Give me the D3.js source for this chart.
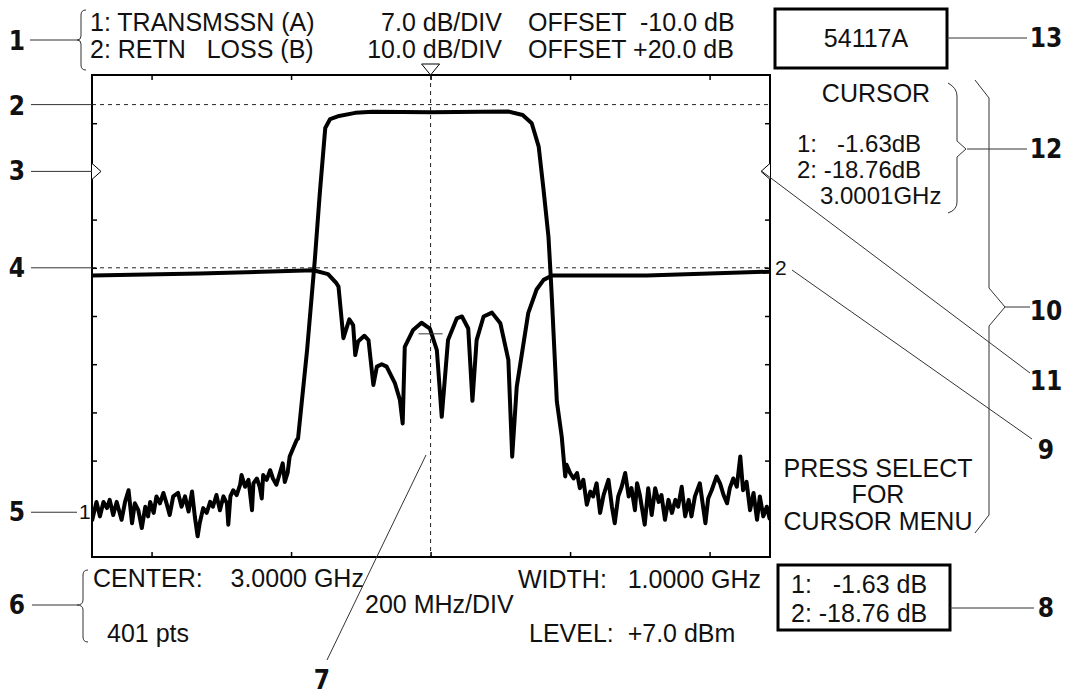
<!DOCTYPE html>
<html>
<head>
<meta charset="utf-8">
<script src="https://cdn.jsdelivr.net/npm/d3@7"></script>
<style>
  body { margin: 0; background: #fff; }
  svg text { white-space: pre; }
  .scr { font-family: "Liberation Sans", Arial, sans-serif; font-size: 25px; fill: #111; }
  .small { font-size: 21px; }
  .tight { font-size: 24px; }
  .num { font-family: "Liberation Sans Narrow", "DejaVu Sans Condensed", sans-serif; font-weight: bold; font-size: 26px; fill: #111; }
  .call { stroke: #333; stroke-width: 1; fill: none; }
  .dash { stroke: #222; stroke-width: 1; stroke-dasharray: 4,4; fill: none; }
  .tick line { stroke: #000; stroke-width: 1.5; }
</style>
</head>
<body>
<svg width="1067" height="696"></svg>
<script>
// ---- data ----
// frequency in GHz, level in dB
let freqTicks = [2.6, 2.8, 3.0, 3.2, 3.4];
let levelTicks = [-3, -10, -17, -24, -31, -38, -45, -52, -59];   // trace 1 divisions, 7 dB/DIV

// trace 1: transmission (A)
let transmission = [
  [2.515,-60.6],[2.521,-58.0],[2.526,-60.1],[2.531,-58.0],[2.536,-58.9],[2.540,-57.7],[2.545,-59.9],
  [2.550,-58.0],[2.557,-60.6],[2.562,-58.0],[2.567,-56.3],[2.572,-61.1],[2.576,-58.2],[2.581,-59.2],
  [2.586,-61.8],[2.591,-58.7],[2.595,-60.1],[2.598,-58.0],[2.603,-59.6],[2.607,-57.2],[2.612,-58.2],
  [2.617,-56.7],[2.622,-58.4],[2.626,-59.9],[2.631,-57.2],[2.638,-56.7],[2.643,-58.7],[2.648,-57.2],
  [2.653,-59.4],[2.658,-56.5],[2.662,-60.1],[2.666,-63.0],[2.669,-61.1],[2.674,-58.9],[2.679,-59.6],
  [2.684,-58.0],[2.688,-58.7],[2.693,-57.0],[2.698,-59.2],[2.703,-57.2],[2.708,-58.2],[2.710,-61.3],
  [2.713,-57.2],[2.717,-56.3],[2.722,-57.0],[2.727,-55.5],[2.729,-54.1],[2.734,-55.8],[2.739,-54.8],
  [2.744,-59.2],[2.746,-55.3],[2.751,-54.6],[2.755,-55.8],[2.758,-57.5],[2.760,-54.1],[2.765,-54.8],
  [2.770,-53.4],[2.774,-54.6],[2.779,-55.5],[2.784,-53.8],[2.788,-52.4],[2.791,-55.1],[2.795,-53.8],
  [2.798,-51.4],[2.803,-50.2],[2.808,-49.0],[2.810,-48.8],[2.823,-35.9],[2.834,-22.9],[2.841,-13.4],
  [2.849,-3.7],[2.856,-2.4],[2.867,-2.0],[2.892,-1.5],[2.917,-1.35],[3.000,-1.4],[3.111,-1.3],
  [3.132,-1.8],[3.145,-3.0],[3.155,-6.4],[3.162,-12.7],[3.169,-19.5],[3.172,-24.8],[3.174,-28.7],
  [3.181,-43.4],[3.188,-48.5],[3.193,-54.3],[3.195,-52.6],[3.200,-53.8],[3.205,-54.6],[3.210,-53.8],
  [3.214,-56.0],[3.219,-54.8],[3.224,-58.4],[3.229,-56.5],[3.233,-57.2],[3.238,-55.3],[3.243,-59.6],
  [3.248,-57.0],[3.255,-54.8],[3.260,-58.7],[3.264,-61.1],[3.269,-57.2],[3.274,-55.8],[3.279,-53.8],
  [3.284,-57.2],[3.288,-56.0],[3.293,-59.2],[3.296,-55.3],[3.300,-57.0],[3.307,-61.3],[3.312,-56.0],
  [3.317,-59.9],[3.322,-56.0],[3.327,-58.0],[3.331,-57.0],[3.336,-60.6],[3.341,-57.7],[3.346,-59.6],
  [3.351,-57.7],[3.355,-58.7],[3.360,-55.8],[3.365,-60.1],[3.370,-57.7],[3.374,-60.1],[3.379,-57.2],
  [3.386,-55.3],[3.394,-61.1],[3.398,-57.5],[3.403,-56.3],[3.410,-54.3],[3.415,-55.3],[3.420,-57.0],
  [3.425,-58.2],[3.429,-56.0],[3.434,-54.6],[3.439,-55.8],[3.444,-51.4],[3.448,-56.3],[3.453,-55.1],
  [3.458,-59.2],[3.463,-56.7],[3.468,-60.6],[3.472,-57.2],[3.477,-60.1],[3.482,-58.7],[3.486,-60.4]
];

// trace 2: return loss (B), 10 dB/DIV
let returnLoss = [
  [2.515,-1.6],[2.669,-1.2],[2.832,-0.5],[2.853,-1.3],[2.865,-3.2],[2.868,-3.9],[2.875,-14.6],
  [2.8835,-10.7],[2.889,-11.9],[2.892,-18.1],[2.896,-15.3],[2.905,-14.1],[2.911,-15.0],[2.918,-24.3],
  [2.923,-20.5],[2.930,-20.0],[2.937,-20.5],[2.949,-24.0],[2.956,-27.4],[2.960,-32.3],[2.963,-16.4],
  [2.975,-12.9],[2.987,-11.4],[2.999,-12.6],[3.009,-17.1],[3.016,-30.9],[3.025,-15.0],[3.0375,-10.5],
  [3.045,-10.1],[3.054,-12.6],[3.060,-27.6],[3.066,-15.0],[3.076,-10.1],[3.088,-9.3],[3.100,-11.5],
  [3.1115,-19.1],[3.117,-39.2],[3.1235,-24.7],[3.140,-9.4],[3.152,-4.5],[3.162,-2.5],[3.174,-1.6],
  [3.310,-1.6],[3.486,-0.8]
];

let cursorFreq = 3.0;
let cursorLevel2 = -13.7;   // cursor crossing mark on trace 2
let refLevel1 = -0.3;       // dashed reference (trace 1)
let offsetLevel1 = -10;     // OFFSET -10.0 dB markers
let refLevel2 = 0;          // trace 2 reference line
let label1Level = -59.5;    // where the "1" tag sits on trace 1 scale

let header1 = ["1: TRANSMSSN (A)", "7.0 dB/DIV", "OFFSET  -10.0 dB"];
let header2 = ["2: RETN   LOSS (B)", "10.0 dB/DIV", "OFFSET +20.0 dB"];
let cursorLines = ["CURSOR", "1:   -1.63dB", "2: -18.76dB", "3.0001GHz"];
let menuLines = ["PRESS SELECT", "FOR", "CURSOR MENU"];
let footer = ["CENTER:    3.0000 GHz", "200 MHz/DIV", "WIDTH:   1.0000 GHz", "401 pts", "LEVEL:  +7.0 dBm"];
let readout = ["1:   -1.63 dB", "2: -18.76 dB"];
let model = "54117A";

// ---- setup ----
let svg = d3.select("svg");
let pLeft = 92, pRight = 770, pTop = 75, pBottom = 557;

let x = d3.scaleLinear().domain([2.5146, 3.4866]).range([pLeft, pRight]);
let y1 = d3.scaleLinear().domain([-66, 4]).range([pBottom, pTop]);
let y2 = d3.scaleLinear().domain([-60, 40]).range([pBottom, pTop]);

function txt(s, px, py, cls, anchor) {
  return svg.append("text").attr("class", cls).attr("x", px).attr("y", py)
    .attr("text-anchor", anchor || "start").text(s);
}
function seg(x1, yA, x2, yB, cls) {
  svg.append("line").attr("class", cls || "call")
    .attr("x1", x1).attr("y1", yA).attr("x2", x2).attr("y2", yB);
}

svg.append("defs").append("clipPath").attr("id", "plot")
  .append("rect").attr("x", pLeft).attr("y", pTop).attr("width", pRight - pLeft).attr("height", pBottom - pTop);

// ticks on all four sides, pointing inwards
function noDomain(g) { g.select(".domain").remove(); g.selectAll("text").remove(); }
svg.append("g").attr("transform", "translate(0," + pTop + ")")
  .call(d3.axisTop(x).tickValues(freqTicks).tickSize(-5).tickFormat("")).call(noDomain);
svg.append("g").attr("transform", "translate(0," + pBottom + ")")
  .call(d3.axisBottom(x).tickValues(freqTicks).tickSize(-5).tickFormat("")).call(noDomain);
svg.append("g").attr("transform", "translate(" + pLeft + ",0)")
  .call(d3.axisLeft(y1).tickValues(levelTicks).tickSize(-5).tickFormat("")).call(noDomain);
svg.append("g").attr("transform", "translate(" + pRight + ",0)")
  .call(d3.axisRight(y1).tickValues(levelTicks).tickSize(-5).tickFormat("")).call(noDomain);

// dashed reference lines + cursor
seg(pLeft, y1(refLevel1), pRight, y1(refLevel1), "dash");
seg(pLeft, y2(refLevel2), pRight, y2(refLevel2), "dash");
seg(x(cursorFreq), pTop, x(cursorFreq), pBottom, "dash");

// traces
let line = d3.line().x(d => x(d[0]));
let plot = svg.append("g").attr("clip-path", "url(#plot)");
plot.append("path").datum(transmission)
  .attr("d", line.y(d => y1(d[1])))
  .attr("fill", "none").attr("stroke", "#000").attr("stroke-width", 4)
  .attr("stroke-linejoin", "round").attr("stroke-linecap", "round");
plot.append("path").datum(returnLoss)
  .attr("d", line.y(d => y2(d[1])))
  .attr("fill", "none").attr("stroke", "#000").attr("stroke-width", 4)
  .attr("stroke-linejoin", "round").attr("stroke-linecap", "round");

// cursor crossing mark on trace 2
seg(x(cursorFreq) - 12, y2(cursorLevel2), x(cursorFreq) + 12, y2(cursorLevel2), "call");

// frame
svg.append("rect").attr("x", pLeft).attr("y", pTop).attr("width", pRight - pLeft).attr("height", pBottom - pTop)
  .attr("fill", "none").attr("stroke", "#000").attr("stroke-width", 2);

// markers
let cx = x(cursorFreq), oy = y1(offsetLevel1);
svg.append("path").attr("d", `M${cx - 9},${pTop - 11}L${cx + 9},${pTop - 11}L${cx},${pTop}Z`)
  .attr("fill", "#fff").attr("stroke", "#000").attr("stroke-width", 1);
svg.append("path").attr("d", `M${pLeft},${oy - 8}L${pLeft + 9},${oy}L${pLeft},${oy + 8}`)
  .attr("fill", "#fff").attr("stroke", "#000").attr("stroke-width", 1);
svg.append("path").attr("d", `M${pRight},${oy - 8}L${pRight - 9},${oy}L${pRight},${oy + 8}`)
  .attr("fill", "#fff").attr("stroke", "#000").attr("stroke-width", 1);
txt("1", 79, y1(label1Level) + 7, "scr small");
txt("2", 775, y2(refLevel2) + 7, "scr small");

// screen text
txt(header1[0], 90, 31, "scr");
txt(header1[1], 502, 31, "scr", "end");
txt(header1[2], 528, 31, "scr");
txt(header2[0], 90, 58, "scr");
txt(header2[1], 502, 58, "scr", "end");
txt(header2[2], 528, 58, "scr");

svg.append("rect").attr("x", 775).attr("y", 9).attr("width", 172).attr("height", 59)
  .attr("fill", "none").attr("stroke", "#000").attr("stroke-width", 3);
txt(model, 866, 47, "scr", "middle");

txt(cursorLines[0], 876, 102, "scr", "middle");
txt(cursorLines[1], 797, 152, "scr tight");
txt(cursorLines[2], 797, 178, "scr tight");
txt(cursorLines[3], 820, 204, "scr tight");

txt(menuLines[0], 878, 477, "scr", "middle");
txt(menuLines[1], 878, 503, "scr", "middle");
txt(menuLines[2], 878, 530, "scr", "middle");

txt(footer[0], 93, 587, "scr");
txt(footer[1], 365, 613, "scr");
txt(footer[2], 518, 588, "scr");
txt(footer[3], 107, 642, "scr");
txt(footer[4], 529, 642, "scr");

svg.append("rect").attr("x", 778).attr("y", 565).attr("width", 172).attr("height", 65)
  .attr("fill", "none").attr("stroke", "#000").attr("stroke-width", 3);
txt(readout[0], 791, 593, "scr");
txt(readout[1], 791, 622, "scr");

// ---- callouts ----
txt("1", 17, 50, "num", "middle");
seg(30, 40, 77, 40);
svg.append("path").attr("class", "call")
  .attr("d", "M86,10 Q81,10 81,15 L81,36 Q81,40 77,40 Q81,40 81,44 L81,65 Q81,70 86,70");
txt("2", 17, 115, "num", "middle");
seg(31, y1(refLevel1), pLeft, y1(refLevel1));
txt("3", 17, oy + 9, "num", "middle");
seg(31, oy, pLeft, oy);
txt("4", 17, y2(refLevel2) + 9, "num", "middle");
seg(31, y2(refLevel2), pLeft, y2(refLevel2));
txt("5", 17, y1(label1Level) + 9, "num", "middle");
seg(31, y1(label1Level), 77, y1(label1Level));
txt("6", 17, 614, "num", "middle");
seg(32, 605, 77, 605);
svg.append("path").attr("class", "call")
  .attr("d", "M88,570 Q83,570 83,575 L83,600 Q83,605 77,605 Q83,605 83,610 L83,637 Q83,642 88,642");
txt("7", 322, 689, "num", "middle");
seg(327, 660, 426, 455);
txt("8", 1046, 617, "num", "middle");
seg(950, 608, 1034, 608);
txt("9", 1046, 459, "num", "middle");
seg(792, 270, 1032, 439);
txt("10", 1046, 320, "num", "middle");
seg(1005, 307, 1030, 307);
svg.append("path").attr("class", "call")
  .attr("d", "M975,80 L989,98 L989,288 L1005,307 L989,326 L989,515 L975,533");
txt("11", 1046, 390, "num", "middle");
seg(762, oy, 1030, 373);
txt("12", 1046, 158, "num", "middle");
seg(967, 149, 1027, 149);
svg.append("path").attr("class", "call")
  .attr("d", "M948,83 Q957,88 957,96 L957,141 L966,149 L957,157 L957,202 Q957,210 948,213");
txt("13", 1046, 47, "num", "middle");
seg(947, 38, 1027, 38);
</script>
</body>
</html>
